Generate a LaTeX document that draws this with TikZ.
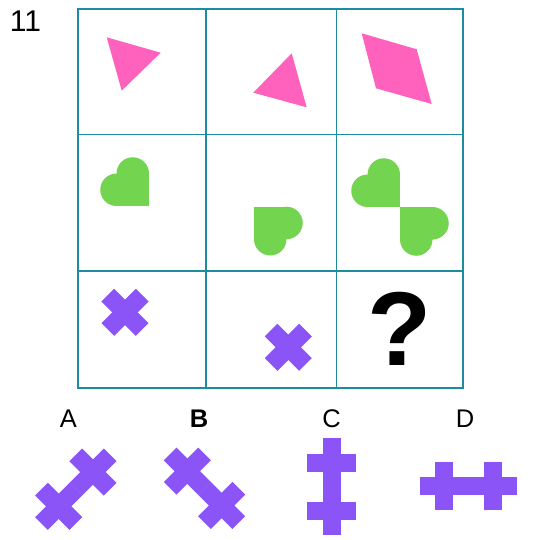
\documentclass[tikz,border=0pt]{standalone}
\usepackage{fontspec}
\setmainfont{Liberation Sans}
\usetikzlibrary{positioning}
\definecolor{gridteal}{RGB}{30,140,160}
\definecolor{shapepink}{RGB}{255,98,188}
\definecolor{shapegreen}{RGB}{115,212,80}
\definecolor{shapepurple}{RGB}{138,84,246}
\tikzset{
x=1pt, y=-1pt, % one unit is one pixel of the page, y runs downwards
gridline/.style={draw=gridteal, line width=1.4pt}, % the lines of the 3x3 grid
pinkfill/.style={fill=shapepink}, % the shapes of the first row
greenfill/.style={fill=shapegreen}, % the shapes of the second row
purplefill/.style={fill=shapepurple}, % the crosses
optlabel/.style={font=\fontsize{25.5}{30}\selectfont}, % letters over the answers
crossbar/.pic={ % a plus sign, centre at the origin
\fill[purplefill] (-24.3,-9) rectangle (24.3,9);
\fill[purplefill] (-9,-24.3) rectangle (9,24.3);
},
heart/.pic={ % point at the origin, lobes above and to the left
\fill[greenfill] (-32.5,-32.5) rectangle (0,0);
\fill[greenfill] (-16.25,-32.5) circle[radius=16.25];
\fill[greenfill] (-32.5,-16.25) circle[radius=16.25];
},
}
\begin{document}
\begin{tikzpicture}
\useasboundingbox (0,0) rectangle (540,540);

\node[font=\fontsize{30}{36}\selectfont] (num) at (25.5,21) {11};

% grid
\draw[gridline] (78,9) rectangle (463,388);
\draw[gridline] (206,9) -- (206,388) (336.5,9) -- (336.5,388);
\draw[gridline] (78,134.5) -- (463,134.5) (78,271) -- (463,271);

% first row
\fill[pinkfill] (106.7,37.3) -- (160.7,52.7) -- (121.7,90.7) -- cycle;
\fill[pinkfill] (291.7,53.3) -- (306.7,107.3) -- (253.3,92.7) -- cycle;
\fill[pinkfill] (361.7,33.3) -- (416.7,49.3) -- (431.7,104) -- (376,88.3) -- cycle;

% second row
\pic at (149,206) {heart};
\pic[rotate=180] at (254,206.7) {heart};
\pic at (400,207) {heart};
\pic[rotate=180] at (400,207) {heart};

% third row
\pic[rotate=45] at (125,312.3) {crossbar};
\pic[rotate=45] at (288.3,347.3) {crossbar};
\node[font=\fontsize{105}{120}\selectfont\bfseries] (qmark) at (400,329) {?};

% answers
\node[optlabel] (optA) at (68.3,419.2) {A};
\node[optlabel, font=\fontsize{25.5}{30}\selectfont\bfseries] (optB) at (199.2,419.2) {B};
\node[optlabel] (optC) at (331.7,419.2) {C};
\node[optlabel] (optD) at (465,419.2) {D};

\pic[rotate=45] at (58.65,506.35) {crossbar};
\pic[rotate=45] at (92.95,472.05) {crossbar};
\pic[rotate=45] at (187.35,471.15) {crossbar};
\pic[rotate=45] at (221.65,505.45) {crossbar};
\pic at (331.7,462.5) {crossbar};
\pic at (331.7,511) {crossbar};
\pic at (444,486) {crossbar};
\pic at (492.5,486) {crossbar};

\end{tikzpicture}
\end{document}
